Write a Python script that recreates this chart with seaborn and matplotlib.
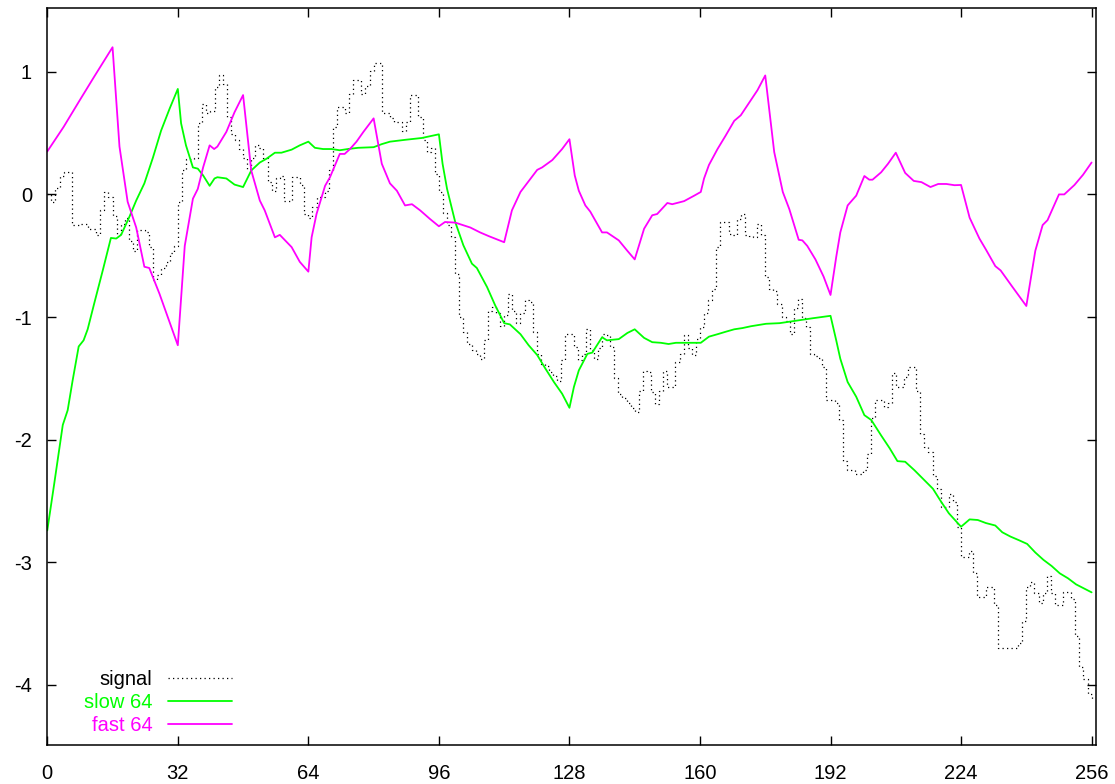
import numpy as np
import pandas as pd
import matplotlib
matplotlib.use("Agg")
import matplotlib.pyplot as plt
import seaborn as sns

# %%
# signal: step levels (x where each level starts, value)
sig_x = [0, 1, 2, 3, 4, 6, 8, 10, 12, 13, 14, 15, 16, 17, 18, 19, 20, 21, 22, 24,
         25, 26, 27, 28, 29, 30, 31, 32, 33, 34, 36, 37, 38, 39, 40, 41, 42, 43, 44, 45,
         46, 47, 48, 49, 50, 51, 52, 53, 54, 55, 56, 57, 58, 60, 62, 63, 64, 65, 66, 68,
         69, 70, 71, 73, 74, 75, 77, 78, 79, 80, 82, 84, 85, 87, 88, 89, 91, 92, 93, 94,
         95, 96, 97, 98, 99, 100, 101, 102, 103, 104, 105, 106, 107, 108, 109, 110, 111, 112, 113, 114,
         115, 116, 117, 118, 119, 120, 121, 122, 123, 124, 125, 126, 127, 129, 130, 131, 132, 133, 134, 135,
         136, 137, 138, 139, 140, 141, 142, 143, 144, 145, 146, 147, 148, 149, 150, 151, 152, 154, 155, 156,
         157, 158, 159, 160, 161, 162, 163, 164, 165, 167, 168, 169, 170, 171, 172, 173, 174, 175, 176, 177,
         178, 179, 180, 181, 182, 183, 184, 185, 186, 187, 188, 189, 190, 191, 193, 194, 195, 196, 198, 200,
         201, 202, 203, 205, 206, 207, 208, 210, 211, 213, 214, 215, 216, 217, 218, 219, 221, 222, 223, 224,
         226, 227, 228, 230, 232, 233, 238, 239, 240, 241, 242, 243, 244, 245, 246, 247, 249, 251, 252, 253,
         254, 255, 256]
sig_y = [0.0, -0.06, 0.05, 0.15, 0.18, -0.25, -0.24, -0.28, -0.33, -0.13, 0.02, -0.02, -0.18, -0.32, -0.24, -0.19, -0.38, -0.46, -0.29, -0.31,
         -0.43, -0.70, -0.66, -0.60, -0.55, -0.48, -0.42, -0.06, 0.195, 0.29, 0.30, 0.58, 0.74, 0.66, 0.68, 0.875, 0.97, 0.90, 0.63, 0.495,
         0.44, 0.37, 0.30, 0.21, 0.30, 0.40, 0.38, 0.30, 0.10, 0.03, 0.13, 0.15, -0.05, 0.14, 0.08, -0.16, -0.19, -0.10, -0.02, 0.03,
         0.195, 0.55, 0.71, 0.66, 0.82, 0.93, 0.82, 0.88, 1.01, 1.07, 0.66, 0.62, 0.59, 0.52, 0.59, 0.81, 0.63, 0.44, 0.345, 0.38,
         0.17, 0.02, -0.15, -0.25, -0.35, -0.65, -1.0, -1.12, -1.22, -1.27, -1.30, -1.34, -1.19, -0.95, -0.92, -0.97, -1.07, -0.98, -0.81, -0.95,
         -1.05, -0.97, -0.865, -0.88, -1.12, -1.30, -1.38, -1.40, -1.45, -1.48, -1.52, -1.35, -1.14, -1.245, -1.35, -1.30, -1.095, -1.27, -1.34, -1.25,
         -1.14, -1.15, -1.245, -1.50, -1.63, -1.66, -1.70, -1.74, -1.775, -1.60, -1.44, -1.45, -1.61, -1.71, -1.60, -1.44, -1.57, -1.37, -1.30, -1.15,
         -1.25, -1.31, -1.18, -1.08, -0.97, -0.865, -0.77, -0.43, -0.225, -0.32, -0.33, -0.20, -0.16, -0.33, -0.34, -0.35, -0.24, -0.335, -0.67, -0.77,
         -0.79, -0.89, -1.0, -1.03, -1.14, -0.93, -0.85, -1.01, -1.08, -1.30, -1.32, -1.33, -1.41, -1.68, -1.70, -1.84, -2.17, -2.25, -2.28, -2.25,
         -2.115, -1.82, -1.68, -1.73, -1.70, -1.46, -1.57, -1.49, -1.41, -1.60, -1.95, -2.06, -2.10, -2.30, -2.40, -2.55, -2.44, -2.51, -2.71, -2.96,
         -2.91, -3.09, -3.28, -3.20, -3.35, -3.70, -3.66, -3.48, -3.20, -3.16, -3.25, -3.33, -3.25, -3.11, -3.25, -3.35, -3.24, -3.30, -3.60, -3.85,
         -3.95, -4.07, -4.12]

slow_x = [0, 1.7, 3.8, 5, 6.2, 7.7, 8.9, 9.9, 11.5, 13.6, 15.6, 16.9, 18.1, 20.1, 21.8, 23.8, 25.9, 27.9, 30, 32,
          32.8, 34, 35.7, 36.9, 38.2, 39.8, 41, 41.7, 43.9, 45.9, 48, 50, 52.1, 53.7, 55.8, 57.4, 59.9, 61.9, 64, 65.6,
          67.6, 69.7, 71.7, 73.7, 76.2, 80, 82, 84, 87.7, 91.8, 96, 96.9, 98, 100, 102, 104.1, 105.3, 107.8, 109.8, 112,
          113.4, 116, 118, 120.1, 122.1, 124.2, 126.2, 128, 129.1, 130.3, 132.4, 133.6, 136, 137.2, 140.1, 142.2, 144, 146.3, 148.3, 150.4,
          152.3, 154.1, 156.6, 158.6, 160.2, 162.2, 164.3, 166.3, 168.4, 170.4, 172.5, 176.2, 179.5, 183.5, 187.6, 192, 193.4, 194.4, 196.2, 198.3,
          200.3, 202, 204.4, 206.5, 208.4, 210.3, 212.6, 214.7, 217.1, 219, 221, 222.9, 224, 226.1, 228.1, 230.1, 232.4, 234.1, 236.1, 238.2,
          240.2, 242.2, 244.2, 246.2, 248.2, 250.2, 252.2, 256]
slow_y = [-2.74, -2.36, -1.88, -1.76, -1.52, -1.24, -1.19, -1.10, -0.89, -0.62, -0.355, -0.36, -0.33, -0.185, -0.05, 0.09, 0.30, 0.52, 0.70, 0.86,
          0.58, 0.40, 0.22, 0.21, 0.155, 0.07, 0.13, 0.14, 0.13, 0.08, 0.06, 0.195, 0.26, 0.29, 0.34, 0.34, 0.365, 0.40, 0.43, 0.38,
          0.37, 0.37, 0.36, 0.37, 0.38, 0.385, 0.41, 0.43, 0.445, 0.46, 0.49, 0.25, 0.045, -0.225, -0.415, -0.565, -0.60, -0.755, -0.905, -1.05,
          -1.06, -1.14, -1.23, -1.31, -1.42, -1.53, -1.625, -1.74, -1.57, -1.435, -1.30, -1.29, -1.165, -1.19, -1.18, -1.13, -1.10, -1.17, -1.205, -1.21,
          -1.22, -1.21, -1.21, -1.21, -1.21, -1.16, -1.14, -1.12, -1.10, -1.09, -1.075, -1.055, -1.05, -1.03, -1.01, -0.99, -1.19, -1.34, -1.53, -1.65,
          -1.80, -1.84, -1.965, -2.07, -2.175, -2.18, -2.25, -2.32, -2.40, -2.50, -2.60, -2.67, -2.71, -2.65, -2.655, -2.68, -2.70, -2.755, -2.79, -2.82,
          -2.85, -2.92, -2.98, -3.03, -3.09, -3.13, -3.18, -3.245]

fast_x = [0, 4, 8, 11.5, 16, 17.7, 19.7, 21.8, 23.8, 25, 27.5, 32, 33.7, 35.7, 36.9, 38.2, 39.8, 40.9, 41.7, 43.9,
          45.9, 48, 50, 52.1, 53.3, 55.8, 57, 59.9, 61.9, 64, 64.8, 66, 68.1, 69.3, 71.7, 72.9, 74.2, 75.8, 77.5, 80,
          82, 84, 85.7, 87.7, 89.4, 91.4, 93.8, 96, 97.5, 100, 103.7, 106.1, 108.2, 112, 113.9, 116, 117.6, 120.1, 121.3, 123.8,
          126.2, 128, 129.3, 130.3, 131.9, 133.1, 136, 137.2, 140.1, 142.2, 144, 146.3, 148.3, 149.5, 152, 153.2, 156.1, 158.6, 160.2, 161,
          162.2, 164.3, 166.3, 168.4, 170, 172.1, 174.1, 176, 178.2, 180.3, 181.9, 184.2, 185.1, 186.3, 188.3, 190.3, 192, 193.4, 194.4, 196.2,
          198.3, 200.3, 201.5, 202.3, 204.4, 206.1, 208, 210.3, 212.4, 214.3, 216.5, 218.4, 220.4, 222.4, 224, 226.1, 228.5, 230.1, 232.4, 233.7,
          236.5, 240, 242.2, 244, 245.2, 248, 249.3, 251.8, 253.9, 256]
fast_y = [0.35, 0.55, 0.77, 0.96, 1.2, 0.39, -0.06, -0.27, -0.59, -0.6, -0.81, -1.23, -0.42, -0.035, 0.045, 0.22, 0.40, 0.37, 0.39, 0.51,
          0.67, 0.81, 0.195, -0.05, -0.13, -0.35, -0.33, -0.43, -0.55, -0.63, -0.35, -0.16, 0.07, 0.14, 0.33, 0.33, 0.37, 0.43, 0.51, 0.62,
          0.25, 0.09, 0.03, -0.09, -0.08, -0.13, -0.20, -0.26, -0.225, -0.23, -0.27, -0.31, -0.34, -0.39, -0.13, 0.02, 0.09, 0.20, 0.22, 0.28,
          0.37, 0.45, 0.155, 0.03, -0.09, -0.14, -0.31, -0.31, -0.375, -0.46, -0.53, -0.28, -0.17, -0.16, -0.07, -0.08, -0.055, -0.01, 0.02, 0.13,
          0.24, 0.37, 0.48, 0.60, 0.645, 0.75, 0.85, 0.97, 0.345, 0.02, -0.12, -0.37, -0.375, -0.42, -0.53, -0.67, -0.82, -0.51, -0.31, -0.09,
          -0.01, 0.15, 0.12, 0.12, 0.18, 0.25, 0.34, 0.175, 0.11, 0.10, 0.06, 0.085, 0.085, 0.075, 0.077, -0.19, -0.36, -0.45, -0.585, -0.62,
          -0.75, -0.91, -0.46, -0.25, -0.21, 0.0, 0.0, 0.077, 0.16, 0.26]

x_ticks = [0, 32, 64, 96, 128, 160, 192, 224, 256]
y_ticks = [-4, -3, -2, -1, 0, 1]

# %%
sns.set_style("ticks")
plt.rcParams['font.family'] = ['Liberation Sans', 'DejaVu Sans']
plt.rcParams['axes.unicode_minus'] = False

fig = plt.figure(figsize=(11.15, 7.84), dpi=100)
ax = fig.add_axes([0.0424, 0.0497, 0.9410, 0.9401])

sns.lineplot(x=sig_x, y=sig_y, ax=ax, color='black', linewidth=0.9,
             linestyle=(0, (1, 2.6)), drawstyle='steps-post', label='signal')
sns.lineplot(x=slow_x, y=slow_y, ax=ax, color='#00ff00', linewidth=1.3, label='slow 64')
sns.lineplot(x=fast_x, y=fast_y, ax=ax, color='#ff00ff', linewidth=1.3, label='fast 64')

ax.set_xlim(0, 257.2)
ax.set_ylim(-4.49, 1.52)
ax.set_xticks(x_ticks)
ax.set_yticks(y_ticks)
ax.tick_params(direction='in', length=6.5, width=1, labelsize=14.5,
               top=True, right=True, colors='black')
ax.tick_params(axis='x', pad=14)
ax.tick_params(axis='y', pad=11)
for s in ax.spines.values():
    s.set_linewidth(1.1)
    s.set_color('black')
ax.set_xlabel('')
ax.set_ylabel('')

leg = ax.legend(loc='lower right', bbox_to_anchor=(0.2081, 0.0625),
                bbox_transform=fig.transFigure, frameon=False, fontsize=14.5,
                markerfirst=False, handlelength=3.2, handletextpad=0.75,
                labelspacing=0.2, borderpad=0, borderaxespad=0,
                labelcolor='linecolor')

fig.savefig('out.png', dpi=100)
